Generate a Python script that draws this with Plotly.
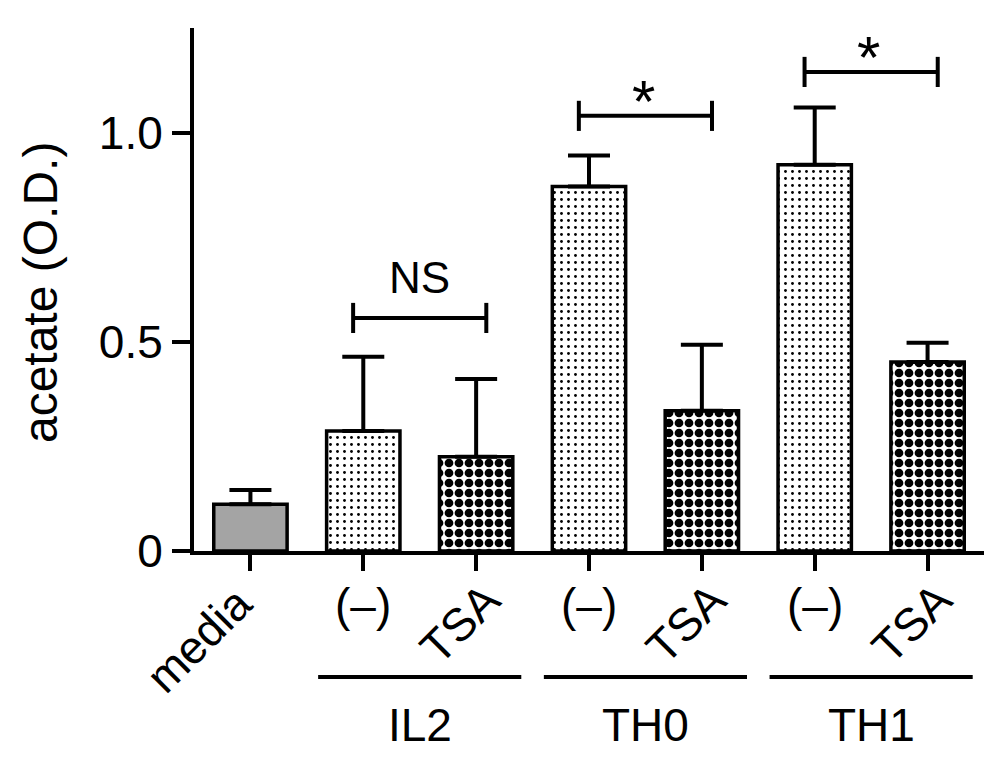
import plotly.graph_objects as go

# ---- data ----
categories = ["media", "IL2 (–)", "IL2 TSA", "TH0 (–)", "TH0 TSA", "TH1 (–)", "TH1 TSA"]
tick_labels = ["media", "(–)", "TSA", "(–)", "TSA", "(–)", "TSA"]
treatment = ["media", "none", "TSA", "none", "TSA", "none", "TSA"]
acetate_mean = [0.112, 0.287, 0.225, 0.871, 0.335, 0.923, 0.452]
acetate_sd = [0.034, 0.177, 0.186, 0.074, 0.158, 0.137, 0.046]
groups = ["IL2", "TH0", "TH1"]
group_first_index = [1, 3, 5]
sig_left_index = [1, 3, 5]
sig_level = [0.557, 1.040, 1.145]
sig_label = ["NS", "*", "*"]
y_tick_vals = [0, 0.5, 1.0]
y_tick_text = ["0", "0.5", "1.0"]
y_title = "acetate (O.D.)"

# ---- styles ----
FONT = "Arial, Liberation Sans, sans-serif"
FS = 46
style = {
    "media": dict(bg="#a4a4a4", fg="#a4a4a4", shape="", size=8, solidity=0.2),
    "none": dict(bg="#ffffff", fg="#000000", shape=".", size=7, solidity=0.13),
    "TSA": dict(bg="#ffffff", fg="#000000", shape=".", size=10, solidity=0.6),
}

x_idx = list(range(len(categories)))

fig = go.Figure()
for t in ["media", "none", "TSA"]:
    sel = [i for i in x_idx if treatment[i] == t]
    st = style[t]
    fig.add_trace(go.Bar(
        x=sel,
        y=[acetate_mean[i] for i in sel],
        width=0.65,
        marker=dict(
            color=st["bg"],
            line=dict(color="black", width=3.5),
            pattern=dict(shape=st["shape"], fgcolor=st["fg"], bgcolor=st["bg"],
                         size=st["size"], solidity=st["solidity"], fgopacity=1),
        ),
        error_y=dict(
            type="data", symmetric=False,
            array=[acetate_sd[i] for i in sel],
            arrayminus=[0] * len(sel),
            color="black", thickness=4, width=21,
        ),
        name=t,
        showlegend=False,
    ))

annotations = []
shapes = []

# x tick labels
for i, lab in enumerate(tick_labels):
    if lab == "(–)":
        annotations.append(dict(x=i, y=-0.103, xref="x", yref="paper", text=lab,
                                showarrow=False, xanchor="center", yanchor="middle",
                                font=dict(family=FONT, size=FS, color="black")))
    elif lab == "media":
        annotations.append(dict(x=i - 0.46, y=-0.170, xref="x", yref="paper", text=lab,
                                textangle=-45, showarrow=False, xanchor="center", yanchor="middle",
                                font=dict(family=FONT, size=FS, color="black")))
    else:
        annotations.append(dict(x=i - 0.14, y=-0.138, xref="x", yref="paper", text=lab,
                                textangle=-45, showarrow=False, xanchor="center", yanchor="middle",
                                font=dict(family=FONT, size=FS, color="black")))

# group lines and labels
for g, i0 in zip(groups, group_first_index):
    shapes.append(dict(type="line", xref="x", yref="paper", x0=i0 - 0.4, x1=i0 + 1.4,
                       y0=-0.241, y1=-0.241, line=dict(color="black", width=4)))
    annotations.append(dict(x=i0 + 0.5, y=-0.333, xref="x", yref="paper", text=g,
                            showarrow=False, xanchor="center", yanchor="middle",
                            font=dict(family=FONT, size=FS, color="black")))

# significance brackets
for i0, lvl, lab in zip(sig_left_index, sig_level, sig_label):
    xa, xb = i0 - 0.09, i0 + 1 + 0.09
    shapes.append(dict(type="line", xref="x", yref="y", x0=xa, x1=xb, y0=lvl, y1=lvl,
                       line=dict(color="black", width=4)))
    for xx in (xa, xb):
        shapes.append(dict(type="line", xref="x", yref="y", x0=xx, x1=xx,
                           y0=lvl - 0.036, y1=lvl + 0.036, line=dict(color="black", width=4)))
    if lab == "*":
        annotations.append(dict(x=(xa + xb) / 2 - 0.02, y=lvl, xref="x", yref="y", text=lab,
                                showarrow=False, xanchor="center", yanchor="middle", yshift=14,
                                font=dict(family=FONT, size=60, color="black")))
    else:
        annotations.append(dict(x=(xa + xb) / 2, y=lvl, xref="x", yref="y", text=lab,
                                showarrow=False, xanchor="center", yanchor="middle", yshift=40,
                                font=dict(family=FONT, size=FS - 2, color="black")))

# y title
annotations.append(dict(x=-0.195, y=0.495, xref="paper", yref="paper", text=y_title,
                        textangle=-90, showarrow=False, xanchor="center", yanchor="middle",
                        font=dict(family=FONT, size=48, color="black")))

# page body has an 8px margin, so the figure is 8px smaller and shifted by it
fig.update_layout(
    width=997, height=761,
    margin=dict(l=186, r=21, t=20, b=218, autoexpand=False),
    paper_bgcolor="white", plot_bgcolor="white",
    font=dict(family=FONT, size=FS, color="black"),
    barmode="overlay",
    xaxis=dict(
        range=[-0.5, 6.5],
        tickvals=x_idx, ticktext=[""] * len(x_idx), showticklabels=False,
        ticks="outside", ticklen=16, tickwidth=4, tickcolor="black",
        showline=True, linecolor="black", linewidth=4,
        showgrid=False, zeroline=False, fixedrange=True,
    ),
    yaxis=dict(
        range=[0, 1.25],
        tickvals=y_tick_vals, ticktext=y_tick_text,
        ticks="outside", ticklen=18, tickwidth=4, tickcolor="black",
        tickfont=dict(family=FONT, size=FS, color="black"),
        showline=True, linecolor="black", linewidth=4,
        showgrid=False, zeroline=False, fixedrange=True,
    ),
    shapes=shapes,
    annotations=annotations,
)

fig.write_html("out.html")
